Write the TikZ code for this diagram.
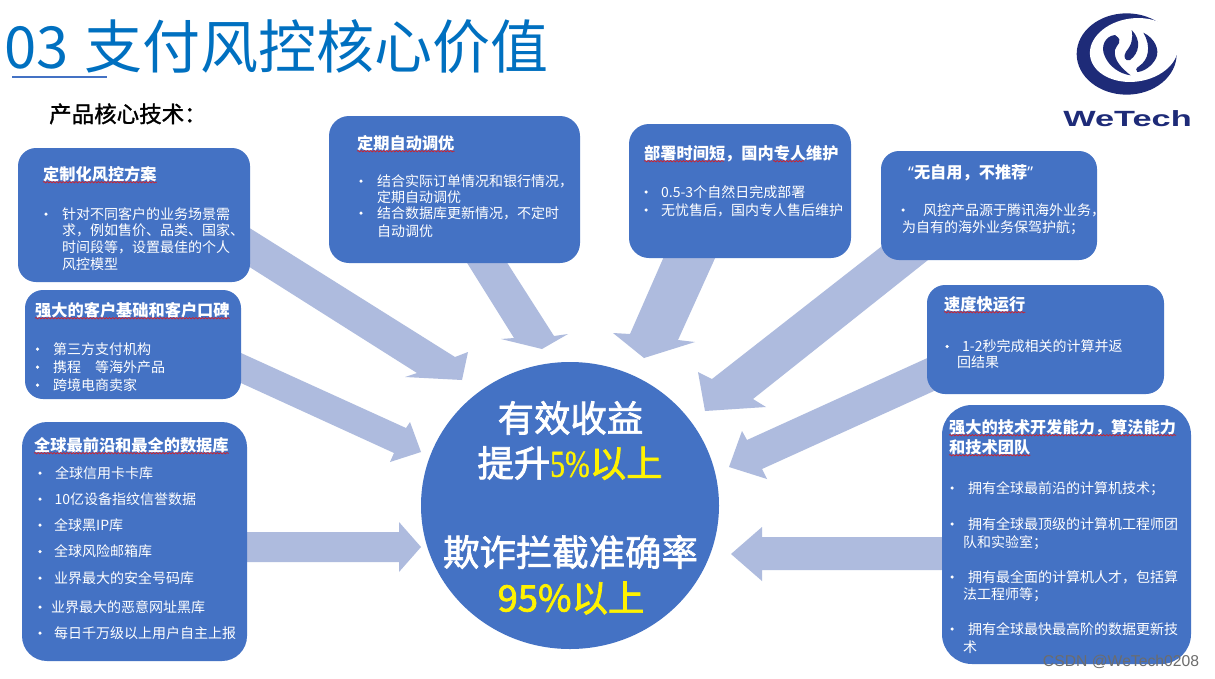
\documentclass[tikz,border=0pt]{standalone}
\usepackage{fontspec}
\setmainfont{Noto Sans CJK SC}
\newfontfamily\latinsans{Noto Sans}
\newfontfamily\serifnum[FakeBold=1]{Liberation Serif}
\newfontfamily\arialfont{Liberation Sans}
\newfontfamily\hubfont[FakeBold=2]{Noto Sans CJK SC}
\newfontfamily\subfont[FakeBold=1.4]{Noto Sans CJK SC}
\usetikzlibrary{calc,backgrounds,shapes.geometric,decorations.pathmorphing}
\definecolor{boxblue}{HTML}{4472C4}
\definecolor{arrowblue}{HTML}{AEBBDE}
\definecolor{titleblue}{HTML}{0070C0}
\definecolor{logonavy}{HTML}{1E2B78}
\definecolor{squigglered}{HTML}{D0202A}
\tikzset{
  x=1pt,y=-1pt,
  bluebox/.style={draw=none,fill=boxblue,rectangle,inner sep=0pt},
  hubshape/.style={draw=none,fill=boxblue,ellipse,inner sep=0pt},
  blockarrow/.style={fill=arrowblue,draw=none},
  bodytext/.style={anchor=west,inner sep=0pt,text=white,text height=12.3pt,text depth=1.7pt,font=\fontsize{14}{16}\selectfont},
  headtext/.style={anchor=west,inner sep=0pt,text=white,text height=14pt,text depth=2pt,font=\fontsize{16.2}{18}\selectfont\bfseries},
  bulletdot/.style={circle,fill=white,draw=none,minimum size=3.5pt,inner sep=0pt},
  hubtext/.style={inner sep=0pt,text=white,font=\hubfont\fontsize{36.4}{40}\selectfont},
  squiggle/.style={draw=squigglered,line width=.7pt,decorate,decoration={snake,amplitude=.7pt,segment length=3.2pt}},
}
\newcommand\blockarrow[9]{%
  \path[blockarrow] ($(#1)+(#3)$) -- ($(#2)+(#4)$) -- ($(#2)+(#5)$) -- ($(#2)+(#6)$)
    -- ($(#2)+(#7)$) -- ($(#2)+(#8)$) -- ($(#1)+(#9)$) -- cycle;}
\newcommand\bodyline[4]{\node[bodytext] (#1) at (#2,#3) {#4};}
\newcommand\headline[4]{\node[headtext] (#1) at (#2,#3) {#4};}
\newcommand\bulletat[3]{\node[bulletdot] (#1) at (#2,#3) {};}
\newcommand\squig[1]{\path[squiggle] (#1.south west) -- (#1.south east);}
\begin{document}
\begin{tikzpicture}
\useasboundingbox (0,0) rectangle (1215,678);

% title
\node[anchor=west,inner sep=0pt,text=titleblue,text height=50pt,text depth=7pt,font=\fontsize{58}{60}\selectfont] (title) at (4,46.5) {03\hspace{16pt}支付风控核心价值};
\draw[boxblue,line width=1.3pt] (12,77) -- (107,77);
\node[anchor=west,inner sep=0pt,text=black,text height=19.4pt,text depth=2.6pt,font=\subfont\fontsize{22.5}{24}\selectfont] (subtitle) at (49,114) {产品核心技术：};

% boxes and hub
\node[bluebox,minimum width=232pt,minimum height=134pt,rounded corners=18pt] (b1) at (134,215) {};
\node[bluebox,minimum width=216pt,minimum height=109pt,rounded corners=18pt] (b2) at (133,344.5) {};
\node[bluebox,minimum width=225pt,minimum height=239pt,rounded corners=25pt] (b3) at (134.5,541.5) {};
\node[bluebox,minimum width=251pt,minimum height=147pt,rounded corners=20pt] (b4) at (454.5,189.5) {};
\node[bluebox,minimum width=222pt,minimum height=134pt,rounded corners=20pt] (b5) at (740,191) {};
\node[bluebox,minimum width=216pt,minimum height=109pt,rounded corners=18pt] (b6) at (989,205.5) {};
\node[bluebox,minimum width=237pt,minimum height=109pt,rounded corners=18pt] (b7) at (1045.5,339.5) {};
\node[bluebox,minimum width=249pt,minimum height=259pt,rounded corners=30pt] (b8) at (1066.5,534.5) {};
\node[hubshape,minimum width=298pt,minimum height=287pt] (hub) at (570,505.5) {};

% block arrows (behind the boxes)
\begin{scope}[on background layer]
\fill[white] (0,0) rectangle (1215,678);
\blockarrow{b1}{hub}{106,7}{-115,-148.5}{-102,-153.5}{-108,-125.5}{-165,-128.5}{-153,-132.5}{106,46}
\blockarrow{b2}{hub}{97,3.5}{-164,-77.5}{-160,-83.5}{-149,-53.5}{-180,-43.5}{-176,-52.5}{97,33.5}
\blockarrow{b3}{hub}{105.5,-9.5}{-171,26.5}{-171,16.5}{-149,41.5}{-171,66.5}{-171,56.5}{105.5,20.5}
\blockarrow{b4}{hub}{4.5,60.5}{-56,-167.5}{-69,-166.5}{-28,-156.5}{-2,-171.5}{-16,-169.5}{44.5,60.5}
\blockarrow{b5}{hub}{-71,54}{60,-171.5}{43,-172.5}{74,-147.5}{125,-163.5}{108,-165.5}{-19,54}
\blockarrow{b6}{hub}{-89,26.5}{142,-126.5}{128,-133.5}{135,-94.5}{196,-98.5}{183,-106.5}{-44,41}
\blockarrow{b7}{hub}{-100.5,10.5}{177,-65.5}{172,-74.5}{159,-38.5}{197,-26.5}{192,-36.5}{-100.5,46.5}
\blockarrow{b8}{hub}{-116.5,2.5}{192,31.5}{192,21.5}{161,48.5}{192,75.5}{192,64.5}{-116.5,35.5}
\end{scope}

% box 1
\headline{h1}{43}{174}{定制化风控方案}\squig{h1}
\bulletat{d1a}{46}{214}
\bodyline{l1a}{62}{214}{针对不同客户的业务场景需}
\bodyline{l1b}{62}{230.5}{求，例如售价、品类、国家、}
\bodyline{l1c}{62}{247}{时间段等，设置最佳的个人}
\bodyline{l1d}{62}{264}{风控模型}

% box 2
\headline{h2}{35}{310}{强大的客户基础和客户口碑}\squig{h2}
\bulletat{d2a}{37.5}{349}\bodyline{l2a}{53}{349}{第三方支付机构}
\bulletat{d2b}{37.5}{367}\bodyline{l2b}{53}{367}{携程　等海外产品}
\bulletat{d2c}{37.5}{385}\bodyline{l2c}{53}{385}{跨境电商卖家}

% box 3
\headline{h3}{34}{445}{全球最前沿和最全的数据库}\squig{h3}
\bulletat{d3a}{40}{473}\bodyline{l3a}{55}{473}{全球信用卡卡库}
\bulletat{d3b}{40}{499}\bodyline{l3b}{54.5}{499}{10亿设备指纹信誉数据}
\bulletat{d3c}{40}{525}\bodyline{l3c}{54}{525}{全球黑IP库}
\bulletat{d3d}{40}{551.5}\bodyline{l3d}{54}{551.5}{全球风险邮箱库}
\bulletat{d3e}{40}{578}\bodyline{l3e}{54}{578}{业界最大的安全号码库}
\bulletat{d3f}{40}{607}\bodyline{l3f}{51}{607}{业界最大的恶意网址黑库}
\bulletat{d3g}{40}{633}\bodyline{l3g}{54}{633}{每日千万级以上用户自主上报}

% box 4
\headline{h4}{357}{143}{定期自动调优}\squig{h4}
\bulletat{d4a}{361}{181}\bodyline{l4a}{377}{181}{结合实际订单情况和银行情况，}
\bodyline{l4b}{377}{197}{定期自动调优}
\bulletat{d4c}{361}{213}\bodyline{l4c}{377}{213}{结合数据库更新情况，不定时}
\bodyline{l4d}{377}{231}{自动调优}

% box 5
\headline{h5}{644}{153}{部署时间短，国内专人维护}
\path[squiggle] (h5.south west) -- ($(h5.south west)+(80,0)$);
\path[squiggle] ($(h5.south west)+(129,0)$) -- ($(h5.south west)+(160,0)$);
\bulletat{d5a}{646}{192}\bodyline{l5a}{661}{192}{0.5-3个自然日完成部署}
\bulletat{d5b}{646}{210}\bodyline{l5b}{661}{210}{无忧售后，国内专人售后维护}

% box 6
\headline{h6}{908}{172}{{\latinsans “}无自用，不推荐{\latinsans ”}}
\bulletat{d6a}{903}{210}\bodyline{l6a}{923}{210}{风控产品源于腾讯海外业务，}
\bodyline{l6b}{902}{227}{为自有的海外业务保驾护航；}

% box 7
\headline{h7}{944}{304}{速度快运行}\squig{h7}
\bulletat{d7a}{947}{346.5}\bodyline{l7a}{962}{346.5}{1-2秒完成相关的计算并返}
\bodyline{l7b}{957}{362}{回结果}

% box 8
\headline{h8a}{949}{427}{强大的技术开发能力，算法能力}\squig{h8a}
\headline{h8b}{949}{447}{和技术团队}\squig{h8b}
\bulletat{d8a}{952}{488}\bodyline{l8a}{968}{488}{拥有全球最前沿的计算机技术；}
\bulletat{d8b}{952}{524}\bodyline{l8b}{968}{524}{拥有全球最顶级的计算机工程师团}
\bodyline{l8c}{963}{542}{队和实验室；}
\bulletat{d8d}{952}{577}\bodyline{l8d}{968}{577}{拥有最全面的计算机人才，包括算}
\bodyline{l8e}{963}{594}{法工程师等；}
\bulletat{d8f}{952}{629}\bodyline{l8f}{968}{629}{拥有全球最快最高阶的数据更新技}
\bodyline{l8g}{963}{647}{术}

% hub text
\node[hubtext] (c1) at (570.5,418) {有效收益};
\node[hubtext] (c2) at (570,463) {提升\textcolor{yellow}{\scalebox{.78}[1]{\serifnum\fontsize{38}{40}\selectfont 5\%}以上}};
\node[hubtext] (c3) at (570.5,552) {欺诈拦截准确率};
\node[hubtext,text=yellow] (c4) at (571,598) {95\%以上};

% logo
\begin{scope}[shift={(1050,0)},x=.3333pt,y=-.3333pt]
  \fill[logonavy] (230,162) ellipse [x radius=150,y radius=122];
  \fill[white,rotate around={8:(252,150)}] (252,150) ellipse [x radius=133,y radius=95];
  \fill[logonavy] (195,105) .. controls (165,108) and (150,140) .. (165,170)
     .. controls (178,200) and (210,222) .. (242,226)
     .. controls (215,205) and (190,180) .. (195,150)
     .. controls (197,135) and (225,125) .. (195,105) -- cycle;
  \fill[logonavy] (245,90) .. controls (275,120) and (268,160) .. (240,180)
     .. controls (225,185) and (218,170) .. (228,155)
     .. controls (245,135) and (250,115) .. (245,90) -- cycle;
  \fill[logonavy] (280,98) .. controls (315,115) and (330,150) .. (318,175)
     .. controls (305,200) and (280,215) .. (262,216)
     .. controls (255,212) and (258,204) .. (268,198)
     .. controls (295,180) and (305,140) .. (280,98) -- cycle;
\end{scope}
\node[inner sep=0pt,text=logonavy,font=\arialfont\bfseries\fontsize{22}{24}\selectfont] (logotext) at (1127.5,119) {\scalebox{1.56}[1]{WeTech}};

% watermark
\node[inner sep=0pt,text=gray!85!black,font=\arialfont\fontsize{15.7}{17}\selectfont] (wm) at (1121,662) {CSDN @WeTech0208};
\end{tikzpicture}
\end{document}
